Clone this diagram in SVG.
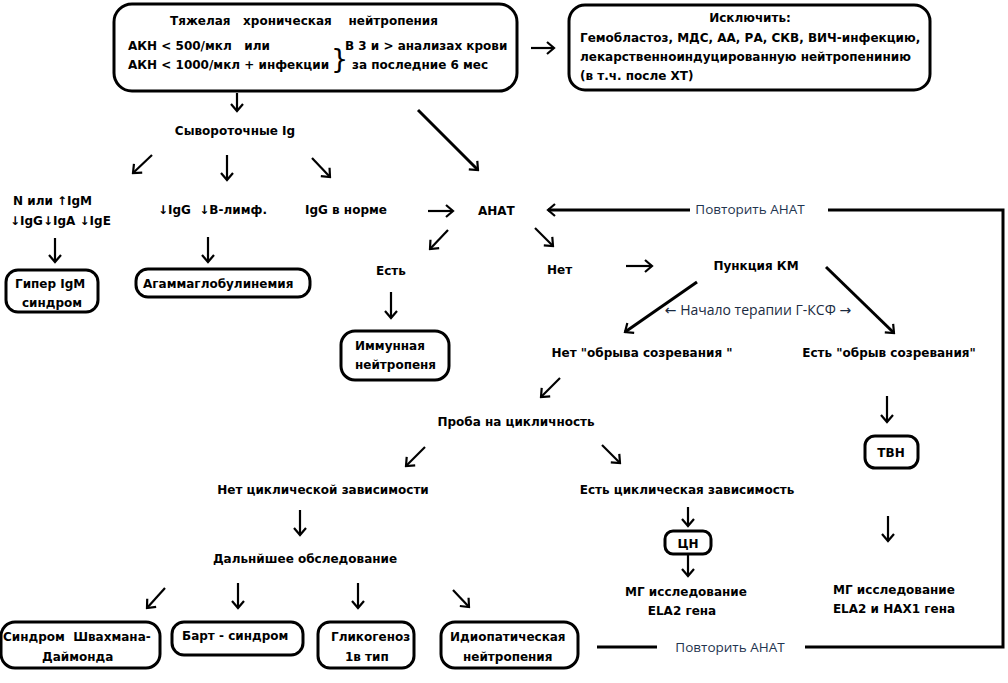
<svg xmlns="http://www.w3.org/2000/svg" width="1008" height="683" viewBox="0 0 1008 683">
<defs>
<style>
text{font-family:"DejaVu Sans","Liberation Sans",sans-serif;font-weight:bold;font-size:12px;fill:#000;white-space:pre}
.n{font-family:"Open Sans","DejaVu Sans",sans-serif;font-weight:normal;font-size:13.5px;fill:#1f3550}
.g{font-size:14px;fill:#1a2a40}
.box{fill:#fff;stroke:#000;stroke-width:3}
.c{fill:none;stroke:#000;stroke-width:2.2}
.t{stroke-width:3}
</style>
<marker id="ah" viewBox="-9 -8 11 16" refX="0" refY="0" markerWidth="11" markerHeight="16" markerUnits="userSpaceOnUse" orient="auto">
<path d="M-7,-6 L0,0 L-7,6" fill="none" stroke="#000" stroke-width="2.2"/>
</marker>
</defs>
<rect width="1008" height="683" fill="#fff"/>

<g id="connectors">
<path class="c" marker-end="url(#ah)" d="M237,93 V111"/>
<path class="c" marker-end="url(#ah)" d="M531,48 H554"/>
<path class="c t" marker-end="url(#ah)" d="M418,110 L478,170"/>
<path class="c" marker-end="url(#ah)" d="M152,155 L133,173"/>
<path class="c" marker-end="url(#ah)" d="M227,155 V180"/>
<path class="c" marker-end="url(#ah)" d="M312,158 L330,177"/>
<path class="c" marker-end="url(#ah)" d="M55,238 V262"/>
<path class="c" marker-end="url(#ah)" d="M208,237 V262"/>
<path class="c" marker-end="url(#ah)" d="M428,211 H453"/>
<path class="c" marker-end="url(#ah)" d="M448,230 L430,249"/>
<path class="c" marker-end="url(#ah)" d="M535,228 L553,246"/>
<path class="c" marker-end="url(#ah)" d="M391,292 V318"/>
<path class="c" marker-end="url(#ah)" d="M626,266 H652"/>
<path class="c t" marker-end="url(#ah)" d="M697,282 L625,332"/>
<path class="c t" marker-end="url(#ah)" d="M826,267 L894,333"/>
<path class="c" marker-end="url(#ah)" d="M560,378 L541,397"/>
<path class="c" marker-end="url(#ah)" d="M887,396 V422"/>
<path class="c" marker-end="url(#ah)" d="M425,447 L406,466"/>
<path class="c" marker-end="url(#ah)" d="M602,445 L620,463"/>
<path class="c" marker-end="url(#ah)" d="M300,510 V535"/>
<path class="c" marker-end="url(#ah)" d="M688,507 V526"/>
<path class="c" marker-end="url(#ah)" d="M688,554 V576"/>
<path class="c" marker-end="url(#ah)" d="M888,516 V541"/>
<path class="c" marker-end="url(#ah)" d="M165,588 L147,608"/>
<path class="c" marker-end="url(#ah)" d="M238,583 V608"/>
<path class="c" marker-end="url(#ah)" d="M358,583 V608"/>
<path class="c" marker-end="url(#ah)" d="M453,590 L469,607"/>
<path class="c t" d="M597,647 H657"/>
<path class="c t" d="M805,647 H1003 V210 H828"/>
<path class="c t" marker-end="url(#ah)" d="M690,210 H548"/>
</g>

<g id="n-main">
<rect class="box" x="114" y="4" width="403" height="87" rx="18"/>
<text x="304" y="25" text-anchor="middle">Тяжелая   хроническая    нейтропения</text>
<text x="128" y="50">АКН &lt; 500/мкл   или</text>
<text x="128" y="69">АКН &lt; 1000/мкл + инфекции</text>
<text x="331" y="68" style="font-size:27px;font-weight:normal">}</text>
<text x="345" y="50">В 3 и &gt; анализах крови</text>
<text x="352" y="69">за последние 6 мес</text>
</g>

<g id="n-exclude">
<rect class="box" x="569" y="5" width="361" height="85" rx="16"/>
<text x="750" y="22" text-anchor="middle">Исключить:</text>
<text x="580" y="42">Гемобластоз, МДС, АА, РА, СКВ, ВИЧ-инфекцию,</text>
<text x="580" y="61">лекарственноиндуцированную нейтропенинию</text>
<text x="580" y="80">(в т.ч. после ХТ)</text>
</g>

<g id="n-ig"><text x="235" y="135" text-anchor="middle">Сывороточные Ig</text></g>
<g id="n-igm"><text x="13" y="205">N или ↑IgM</text><text x="10" y="225">↓IgG↓IgA ↓IgE</text></g>
<g id="n-igg-low"><text x="158" y="214">↓IgG  ↓В-лимф.</text></g>
<g id="n-igg-norm"><text x="305" y="214">IgG в норме</text></g>
<g id="n-anat"><text x="478" y="215">АНАТ</text></g>
<g id="n-repeat1"><text class="n" x="750" y="214" text-anchor="middle">Повторить АНАТ</text></g>

<g id="n-hyperigm">
<rect class="box" x="6" y="270" width="92" height="42" rx="12"/>
<text x="15" y="288">Гипер IgM</text>
<text x="22" y="307">синдром</text>
</g>
<g id="n-agamma">
<rect class="box" x="136" y="269" width="174" height="28" rx="12"/>
<text x="143" y="288">Агаммаглобулинемия</text>
</g>

<g id="n-yes"><text x="391" y="275" text-anchor="middle">Есть</text></g>
<g id="n-immune">
<rect class="box" x="341" y="331" width="108" height="49" rx="14"/>
<text x="355" y="350">Иммунная</text>
<text x="355" y="369">нейтропеня</text>
</g>
<g id="n-no"><text x="547" y="274">Нет</text></g>
<g id="n-punct"><text x="756" y="270" text-anchor="middle">Пункция КМ</text></g>
<g id="n-gcsf"><text class="n g" x="758" y="315" text-anchor="middle">← Начало терапии Г-КСФ →</text></g>
<g id="n-nobreak"><text x="642" y="357" text-anchor="middle">Нет "обрыва созревания "</text></g>
<g id="n-break"><text x="889" y="357" text-anchor="middle">Есть "обрыв созревания"</text></g>
<g id="n-cycle"><text x="516" y="426" text-anchor="middle">Проба на цикличность</text></g>
<g id="n-tvn">
<rect class="box" x="865" y="436" width="53" height="32" rx="10"/>
<text x="891" y="457" text-anchor="middle">ТВН</text>
</g>
<g id="n-nocyc"><text x="323" y="494" text-anchor="middle">Нет циклической зависимости</text></g>
<g id="n-cyc"><text x="687" y="494" text-anchor="middle">Есть циклическая зависимость</text></g>
<g id="n-tsn">
<rect class="box" x="665" y="531" width="46" height="23" rx="8"/>
<text x="688" y="548" text-anchor="middle">ЦН</text>
</g>
<g id="n-mg1"><text x="686" y="596" text-anchor="middle">МГ исследование</text><text x="682" y="615" text-anchor="middle">ELA2 гена</text></g>
<g id="n-mg2"><text x="894" y="594" text-anchor="middle">МГ исследование</text><text x="894" y="613" text-anchor="middle">ELA2 и HAX1 гена</text></g>
<g id="n-further"><text x="305" y="563" text-anchor="middle">Дальнйшее обследование</text></g>

<g id="n-shwachman">
<rect class="box" x="1" y="622" width="159" height="46" rx="14"/>
<text x="3" y="641">Синдром  Швахмана-</text>
<text x="42" y="661">Даймонда</text>
</g>
<g id="n-barth">
<rect class="box" x="172" y="622" width="131" height="33" rx="12"/>
<text x="182" y="640">Барт - синдром</text>
</g>
<g id="n-glyco">
<rect class="box" x="318" y="622" width="96" height="46" rx="12"/>
<text x="331" y="641">Гликогеноз</text>
<text x="345" y="661">1в тип</text>
</g>
<g id="n-idio">
<rect class="box" x="441" y="622" width="137" height="46" rx="14"/>
<text x="450" y="641">Идиопатическая</text>
<text x="463" y="661">нейтропения</text>
</g>
<g id="n-repeat2"><text class="n" x="730" y="652" text-anchor="middle">Повторить АНАТ</text></g>
</svg>
